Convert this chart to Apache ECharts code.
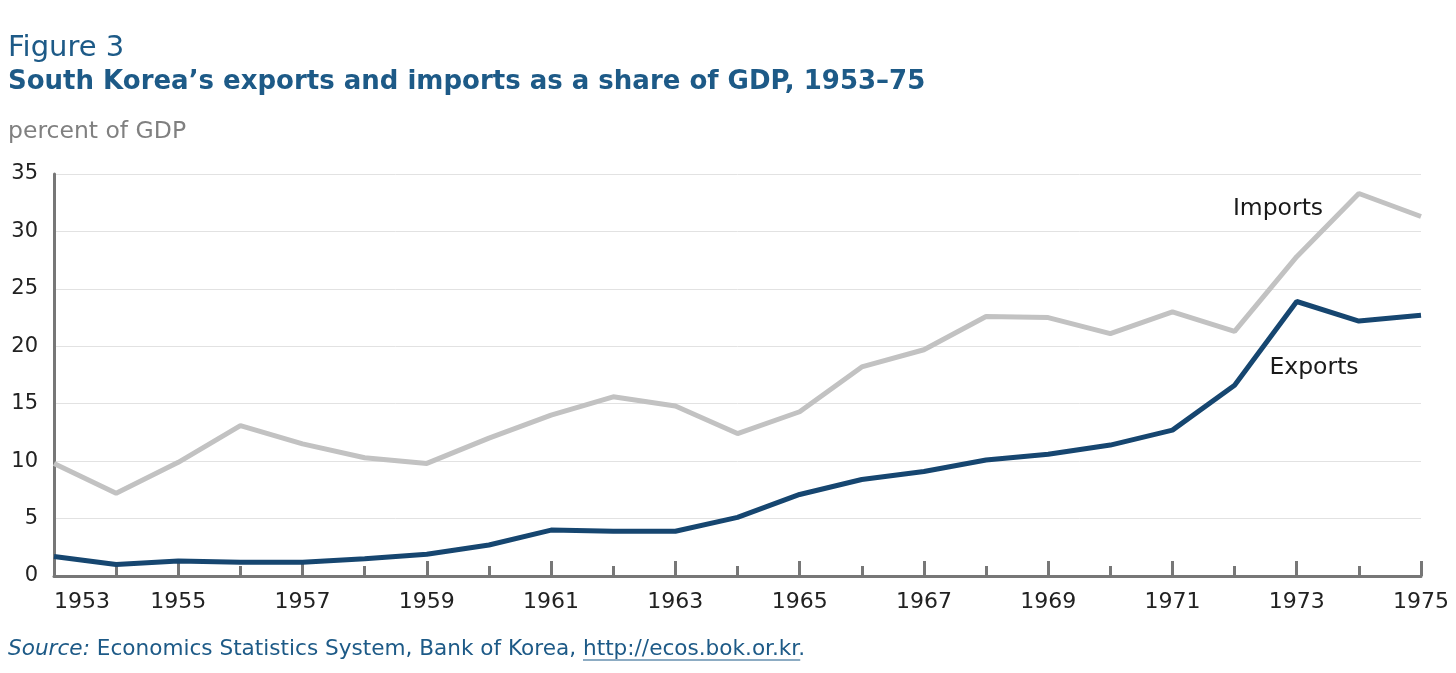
<!DOCTYPE html>
<html>
<head>
<meta charset="utf-8">
<script src="https://cdn.jsdelivr.net/npm/echarts@6/dist/echarts.min.js"></script>
<style>
  html, body { margin: 0; padding: 0; background: #fff; }
  #main { width: 1456px; height: 673px; }
</style>
</head>
<body>
<div id="main"></div>
<script>
// years on the x axis
var years = ['1953', '1954', '1955', '1956', '1957', '1958', '1959', '1960', '1961', '1962', '1963', '1964',
  '1965', '1966', '1967', '1968', '1969', '1970', '1971', '1972', '1973', '1974', '1975']
// percent of GDP
var imports = [9.8, 7.2, 9.9, 13.1, 11.5, 10.3, 9.8, 12.0, 14.0, 15.6, 14.8, 12.4,
  14.3, 18.2, 19.7, 22.6, 22.5, 21.1, 23.0, 21.3, 27.8, 33.3, 31.3]
var exports = [1.7, 1.0, 1.3, 1.2, 1.2, 1.5, 1.9, 2.7, 4.0, 3.9, 3.9, 5.1,
  7.1, 8.4, 9.1, 10.1, 10.6, 11.4, 12.7, 16.6, 23.9, 22.2, 22.7]
var yTicks = [0, 5, 10, 15, 20, 25, 30, 35]

var font = '"DejaVu Sans", sans-serif'
var blue = '#1d5a87'
var axisGray = '#777'

// measure the source prefix so the url underline sits under the url
var srcSize = 21.6
var srcUrl = 'http://ecos.bok.or.kr'
var ctx = document.createElement('canvas').getContext('2d')
ctx.font = 'italic ' + srcSize + 'px ' + font
var w1 = ctx.measureText('Source:').width
ctx.font = srcSize + 'px ' + font
var w2 = ctx.measureText(' Economics Statistics System, Bank of Korea, ').width
var w3 = ctx.measureText(srcUrl).width
var srcX = 8

var myChart = echarts.init(document.getElementById('main'))

myChart.setOption({
    animation: false,
    textStyle: { fontFamily: font },
    grid: {
        left: 54,
        right: 35,
        top: 174,
        bottom: 97
    },
    xAxis: [{
        type: 'category',
        data: years,
        boundaryGap: false,
        axisLine: { lineStyle: { color: axisGray, width: 3 } },
        axisTick: { show: true, inside: true, length: 10, interval: 0,
            lineStyle: { color: axisGray, width: 3 } },
        axisLabel: {
            interval: 1,
            color: '#222',
            fontSize: 22,
            fontFamily: font,
            margin: 15,
            alignMinLabel: 'left'
        },
        splitLine: { show: false }
    }, {
        // second copy only for the long ticks on odd years
        type: 'category',
        data: years,
        boundaryGap: false,
        position: 'bottom',
        axisLine: { show: false },
        axisLabel: { show: false },
        axisTick: { show: true, inside: true, length: 15,
            interval: function (i) { return i % 2 === 0 },
            lineStyle: { color: axisGray, width: 3 } },
        splitLine: { show: false }
    }],
    yAxis: {
        type: 'value',
        min: yTicks[0],
        max: yTicks[yTicks.length - 1],
        interval: 5,
        axisLine: { show: true, lineStyle: { color: axisGray, width: 3 } },
        axisTick: { show: false },
        axisLabel: { color: '#222', fontSize: 21, fontFamily: font, margin: 16 },
        splitLine: { lineStyle: { color: '#e2e2e2', width: 1 } }
    },
    series: [{
        name: 'Imports',
        type: 'line',
        data: imports,
        symbol: 'none',
        lineStyle: { color: '#c2c2c2', width: 5 },
        z: 3
    }, {
        name: 'Exports',
        type: 'line',
        data: exports,
        symbol: 'none',
        lineStyle: { color: '#164670', width: 5 },
        z: 4
    }],
    graphic: [{
        type: 'text',
        x: 8, y: 48,
        style: { text: 'Figure 3', font: '29px ' + font, fill: blue, verticalAlign: 'middle' }
    }, {
        type: 'text',
        x: 8, y: 82,
        style: { text: 'South Korea\u2019s exports and imports as a share of GDP, 1953\u201375',
            font: 'bold 26px ' + font, fill: blue, verticalAlign: 'middle' }
    }, {
        type: 'text',
        x: 8, y: 132,
        style: { text: 'percent of GDP', font: '23.5px ' + font, fill: '#808080', verticalAlign: 'middle' }
    }, {
        type: 'text',
        x: 1278, y: 209,
        style: { text: 'Imports', font: '23.5px ' + font, fill: '#1a1a1a', align: 'center', verticalAlign: 'middle' }
    }, {
        type: 'text',
        x: 1314, y: 368,
        style: { text: 'Exports', font: '23.5px ' + font, fill: '#1a1a1a', align: 'center', verticalAlign: 'middle' }
    }, {
        type: 'text',
        x: srcX, y: 649,
        style: {
            text: '{i|Source:} Economics Statistics System, Bank of Korea, ' + srcUrl + '.',
            font: srcSize + 'px ' + font,
            fill: blue,
            verticalAlign: 'middle',
            rich: {
                i: { fontStyle: 'italic', fontSize: srcSize, fontFamily: font, fill: blue }
            }
        }
    }, {
        type: 'line',
        shape: { x1: srcX + w1 + w2, y1: 660, x2: srcX + w1 + w2 + w3, y2: 660 },
        style: { stroke: blue, lineWidth: 1.2 }
    }]
})
</script>
</body>
</html>
